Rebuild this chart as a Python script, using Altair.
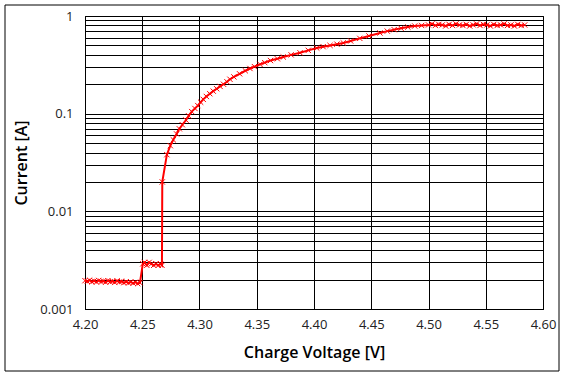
import altair as alt
import pandas as pd

# Charge voltage [V] and current [A]
v_low = [4.200, 4.202, 4.204, 4.206, 4.208, 4.210, 4.212, 4.214, 4.216, 4.218,
         4.220, 4.222, 4.224, 4.226, 4.228, 4.230, 4.232, 4.234, 4.236, 4.238,
         4.240, 4.242, 4.244, 4.246, 4.248]
i_low = [0.00195, 0.00192, 0.00197, 0.00190, 0.00194, 0.00189, 0.00196, 0.00191,
         0.00193, 0.00188, 0.00195, 0.00190, 0.00192, 0.00187, 0.00194, 0.00189,
         0.00191, 0.00186, 0.00190, 0.00185, 0.00189, 0.00184, 0.00188, 0.00182,
         0.00186]

v_step = [4.2505, 4.252, 4.254, 4.256, 4.258, 4.260, 4.262, 4.264, 4.266, 4.2672]
i_step = [0.0029, 0.0030, 0.0028, 0.0030, 0.0029, 0.0028, 0.0029, 0.0028, 0.0029, 0.0028]

v_rise = [4.2675, 4.2715, 4.2745, 4.2771, 4.2800, 4.2824, 4.2850, 4.2882, 4.2905,
          4.2932, 4.2960, 4.2985, 4.3010, 4.3033, 4.3060, 4.3090, 4.3120, 4.3150,
          4.3180, 4.3210, 4.3240, 4.3266, 4.3300, 4.3350, 4.3400, 4.3441, 4.3480,
          4.3528, 4.3570, 4.3620, 4.3680, 4.3732, 4.3800, 4.3878, 4.3950, 4.4024,
          4.4080, 4.4140, 4.4200, 4.4256, 4.4320, 4.4400, 4.4480, 4.4576, 4.4640,
          4.4700, 4.4760, 4.4820, 4.4880, 4.4940]
i_rise = [0.020, 0.038, 0.047, 0.054, 0.062, 0.070, 0.077, 0.086, 0.095,
          0.105, 0.113, 0.121, 0.131, 0.140, 0.150, 0.160, 0.170, 0.180,
          0.190, 0.200, 0.212, 0.225, 0.238, 0.256, 0.275, 0.290, 0.303,
          0.320, 0.333, 0.350, 0.365, 0.380, 0.400, 0.420, 0.445, 0.470,
          0.485, 0.500, 0.515, 0.530, 0.555, 0.590, 0.625, 0.670, 0.700,
          0.725, 0.750, 0.770, 0.790, 0.800]

v_top = [4.500, 4.503, 4.506, 4.509, 4.512, 4.515, 4.518, 4.521, 4.524, 4.527,
         4.530, 4.533, 4.536, 4.539, 4.542, 4.545, 4.548, 4.551, 4.554, 4.557,
         4.560, 4.563, 4.566, 4.569, 4.572, 4.575, 4.578, 4.581, 4.584]
i_top = [0.81, 0.83, 0.80, 0.82, 0.81, 0.79, 0.82, 0.80, 0.83, 0.81,
         0.80, 0.82, 0.79, 0.81, 0.83, 0.80, 0.82, 0.81, 0.79, 0.82,
         0.80, 0.81, 0.83, 0.80, 0.81, 0.79, 0.82, 0.80, 0.81]

x_ticks = [4.20, 4.25, 4.30, 4.35, 4.40, 4.45, 4.50, 4.55, 4.60]
y_ticks = [m * 10 ** e for e in (-3, -2, -1) for m in range(1, 10)] + [1.0]

volts = v_low + v_step + v_rise + v_top
amps = i_low + i_step + i_rise + i_top
df = pd.DataFrame({"v": volts, "a": amps, "i": list(range(len(volts)))})

LFONT = "Open Sans"
TFONT = "Open Sans"
xenc = alt.X("v:Q", scale=alt.Scale(domain=[4.2, 4.6], nice=False, zero=False),
             axis=alt.Axis(values=x_ticks, format=".2f", title="Charge Voltage [V]",
                           grid=True, ticks=False, labelPadding=9, titlePadding=13,
                           labelFlush=False))
yenc = alt.Y("a:Q", scale=alt.Scale(type="log", domain=[0.001, 1], nice=False),
             axis=alt.Axis(values=y_ticks, format="~g", title="Current [A]",
                           grid=True, ticks=False, labelPadding=12, titlePadding=10,
                           labelOverlap=False, labelFlush=False,
                           labelExpr="abs(log(datum.value)/log(10) - round(log(datum.value)/log(10))) < 0.000001 ? datum.label : ''"))

line = alt.Chart(df).mark_line(color="#ff0000", strokeWidth=2).encode(
    x=xenc, y=yenc, order="i:Q")
pts = alt.Chart(df).mark_point(
    shape="M-1,-1L1,1M1,-1L-1,1", color="#ff0000", filled=False,
    strokeWidth=1, size=28, opacity=1).encode(x=xenc, y=yenc)

frame = alt.Chart(alt.Data(values=[{}])).mark_rect(
    fill=None, stroke="black", strokeWidth=1).encode(
    x=alt.value(-80), x2=alt.value(474), y=alt.value(-11), y2=alt.value(355))

chart = alt.layer(line, pts, frame).properties(
    width=458, height=293,
    autosize=alt.AutoSizeParams(type="none"),
    padding={"left": 85, "top": 16, "right": 24, "bottom": 69},
    background="white",
).configure_view(stroke="black", strokeWidth=1).configure_axis(
    gridColor="black", gridOpacity=1, gridWidth=1,
    domainColor="black", domainWidth=1,
    labelFont=LFONT, labelFontSize=13, labelColor="#222222",
    titleFont=TFONT, titleFontSize=16, titleFontWeight=600, titleColor="black",
)

chart.save("out.html", embed_options={"renderer": "svg", "actions": False})
